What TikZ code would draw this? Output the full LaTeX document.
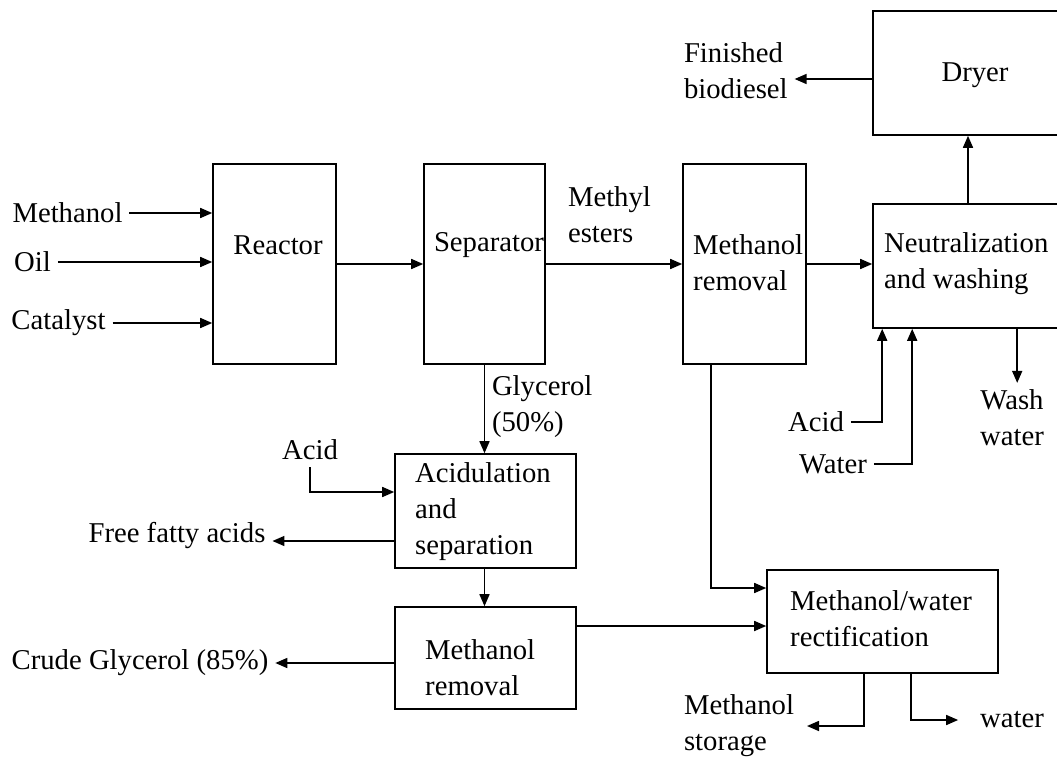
\documentclass[tikz,border=0pt]{standalone}
\usepackage{fontspec}
\setmainfont{Liberation Serif}
\usetikzlibrary{arrows.meta,positioning}

\tikzset{
  unit/.style={draw, line width=1.6pt, inner sep=0pt},
  flow/.style={line width=1.6pt, -{Triangle[length=12pt,width=10pt]}},
  txt/.style={inner sep=0pt, align=left},
  lbl/.style={inner sep=0pt, outer sep=7pt, align=left},
}

\begin{document}
\begin{tikzpicture}[x=1pt,y=-1pt,font=\fontsize{28.7}{36}\selectfont]
        \useasboundingbox (0,0) rectangle (1057,758);

        % process units
        \node[unit, minimum width=123pt, minimum height=200pt] (reactor)   at (274.5,264) {};
        \node[unit, minimum width=121pt, minimum height=200pt] (separator) at (484.5,264) {};
        \node[unit, minimum width=123pt, minimum height=200pt] (meohremA)  at (744.5,264) {};
        \node[unit, minimum width=190pt, minimum height=124pt] (neutral)   at (968,266) {};
        \node[unit, minimum width=190pt, minimum height=124pt] (dryer)     at (968,73) {};
        \node[unit, minimum width=181pt, minimum height=114pt] (acidul)    at (485.5,511) {};
        \node[unit, minimum width=181pt, minimum height=102pt] (meohremB)  at (485.5,658) {};
        \node[unit, minimum width=231pt, minimum height=103pt] (rectif)    at (882.5,621.5) {};

        \node[txt] (reactortxt) at (278,245) {Reactor};
        \node[txt] (septxt) at (489,245) {Separator};
        \node[txt, anchor=west] (meohremAtxt) at (693,263) {Methanol\\removal};
        \node[txt, anchor=west] (neutraltxt) at (884,264) {Neutralization\\and washing};
        \node[txt] (dryertxt) at (975,75) {Dryer};
        \node[txt, anchor=west] (acidultxt) at (415,512) {Acidulation\\and\\separation};
        \node[txt, anchor=west] (meohremBtxt) at (425,668) {Methanol\\removal};
        \node[txt, anchor=west] (rectiftxt) at (790,619) {Methanol/water\\rectification};

        % streams in and out
        \node[lbl] (methanol) at (67.5,213) {Methanol};
        \node[lbl] (oil) at (32.5,262) {Oil};
        \node[lbl] (catalyst) at (58.5,323) {Catalyst};
        \node[lbl, anchor=west] (esters) at (561,215) {Methyl\\esters};
        \node[lbl, anchor=west] (finished) at (677,71) {Finished\\biodiesel};
        \node[lbl, anchor=west] (glycerol) at (485,407) {Glycerol\\(50\%)};
        \node[lbl] (acidL) at (310,450) {Acid};
        \node[lbl] (ffa) at (177,535) {Free fatty acids};
        \node[lbl] (crude) at (140,663) {Crude Glycerol (85\%)};
        \node[lbl] (acidR) at (816,422) {Acid};
        \node[lbl] (waterin) at (833,464) {Water};
        \node[lbl, align=center] (washw) at (1012,418) {Wash\\water};
        \node[lbl, anchor=west] (storage) at (677,726) {Methanol\\storage};
        \node[lbl] (waterout) at (1012,720) {water};

        \draw[flow] (methanol) -- (methanol -| reactor.west);
        \draw[flow] (oil) -- (oil -| reactor.west);
        \draw[flow] (catalyst) -- (catalyst -| reactor.west);
        \draw[flow] (reactor.east) -- (separator.west);
        \draw[flow] (separator.east) -- (meohremA.west);
        \draw[flow] (meohremA.east) -- (meohremA.east -| neutral.west);
        \draw[flow] (neutral.north) -- (dryer.south);
        \draw[flow] ([yshift=-6pt]dryer.west) -- ([yshift=-6pt]dryer.west -| finished.east);

        \draw[flow] (acidR) -| ([xshift=10pt]neutral.south west);
        \draw[flow] (waterin) -| ([xshift=40pt]neutral.south west);
        \coordinate (wwtop) at ([xshift=145pt]neutral.south west);
        \draw[flow] (wwtop) -- (wwtop |- washw.north);

        \draw[flow] (separator.south) -- (separator.south |- acidul.north);
        \draw[flow] (acidL) |- ([yshift=19pt]acidul.west);
        \draw[flow] ([yshift=-30pt]acidul.west) -- ([yshift=-30pt]acidul.west -| ffa.east);
        \draw[flow] (separator.south |- acidul.south) -- (separator.south |- meohremB.north);
        \draw[flow] ([yshift=-5pt]meohremB.west) -- ([yshift=-5pt]meohremB.west -| crude.east);
        \draw[flow] ([yshift=32pt]meohremB.east) -- ([yshift=32pt]meohremB.east -| rectif.west);
        \draw[flow] ([xshift=-33.5pt]meohremA.south) |- ([yshift=33.5pt]rectif.west);

        \draw[flow] ([xshift=98pt]rectif.south west) |- ([xshift=6pt]storage.east);
        \draw[flow] ([xshift=145pt]rectif.south west) |- ([xshift=-15pt]waterout.west);
    \end{tikzpicture}
\end{document}
